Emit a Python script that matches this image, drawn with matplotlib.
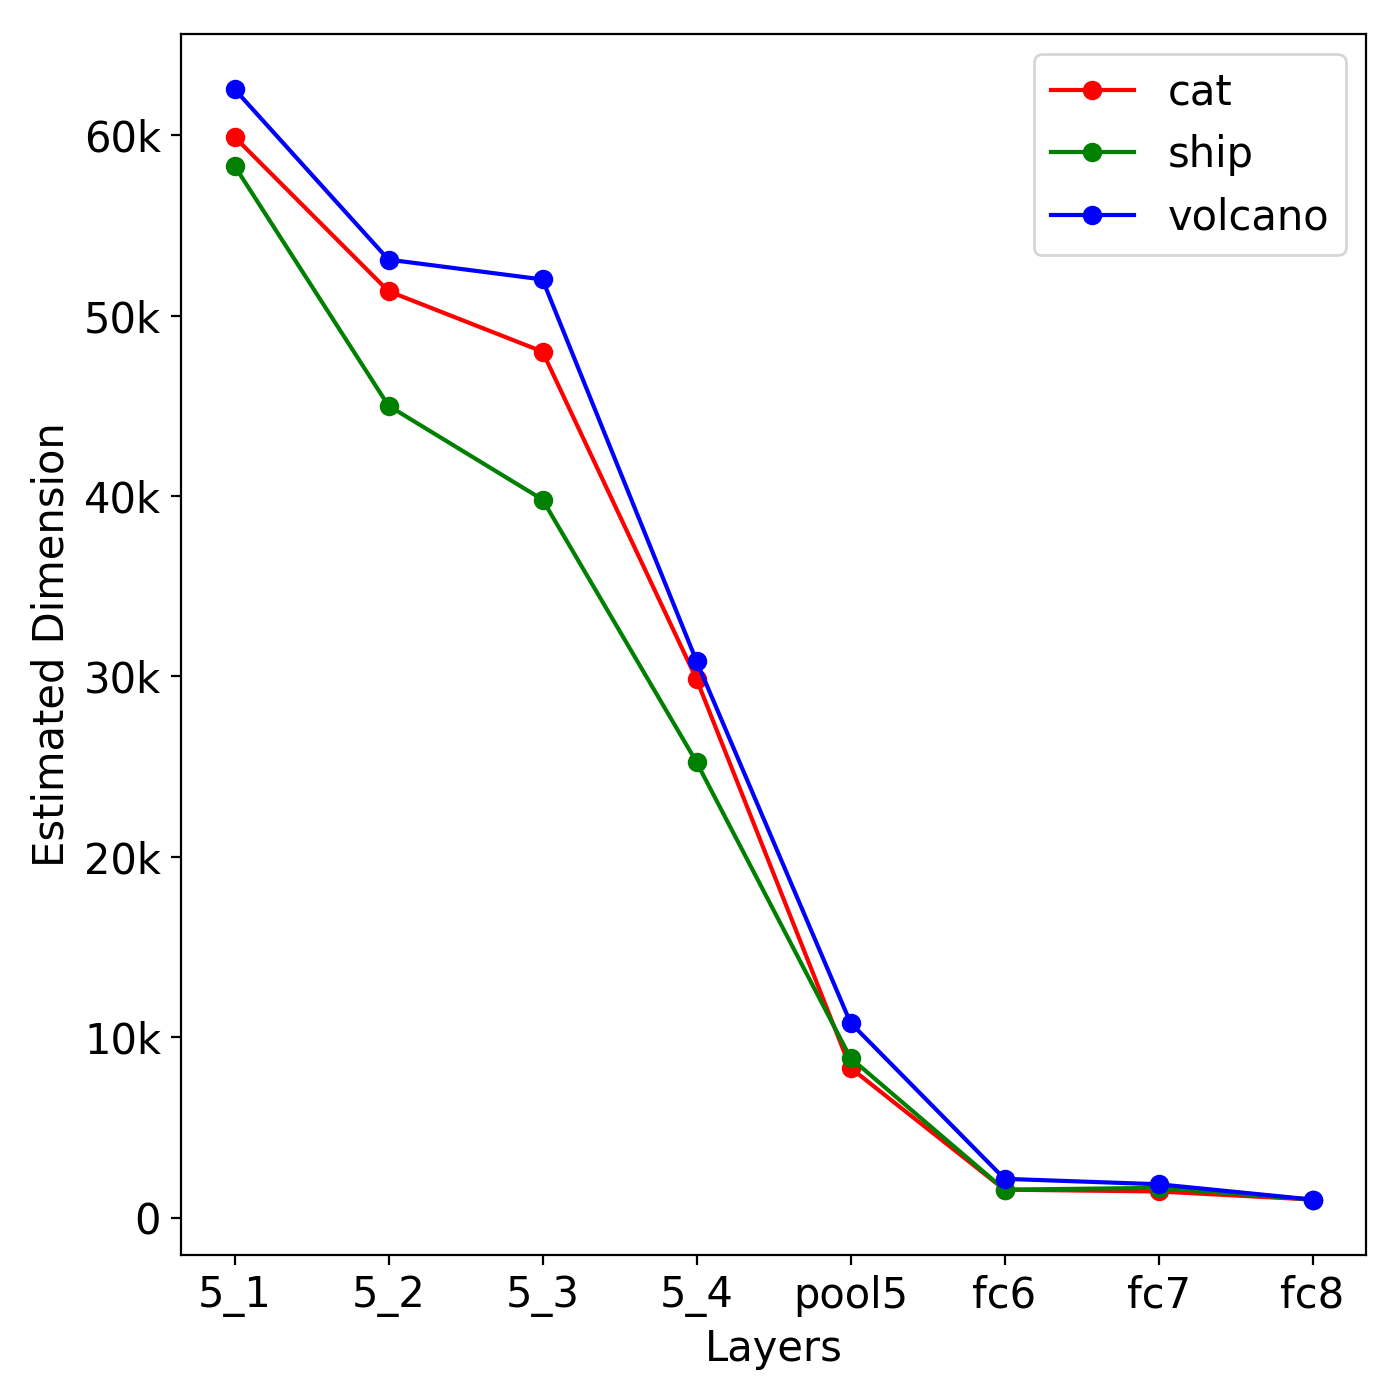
import matplotlib
matplotlib.use('Agg')
import matplotlib.pyplot as plt
from matplotlib.ticker import FuncFormatter

layers = ['5_1', '5_2', '5_3', '5_4', 'pool5', 'fc6', 'fc7', 'fc8']
cat = [59900, 51350, 48000, 29850, 8300, 1550, 1450, 1000]
ship = [58300, 45000, 39800, 25250, 8850, 1550, 1650, 1000]
volcano = [62550, 53100, 52000, 30850, 10800, 2150, 1850, 1000]

plt.rcParams['font.size'] = 15

fig, ax = plt.subplots(figsize=(7, 7), dpi=200)
x = range(len(layers))
ax.plot(x, cat, 'o-', color='red', label='cat')
ax.plot(x, ship, 'o-', color='green', label='ship')
ax.plot(x, volcano, 'o-', color='blue', label='volcano')

ax.set_xticks(list(x))
ax.set_xticklabels(layers)
ax.yaxis.set_major_formatter(FuncFormatter(lambda v, p: '%dk' % (v / 1000) if v != 0 else '0'))
ax.set_xlabel('Layers')
ax.set_ylabel('Estimated Dimension')
ax.legend(loc='upper right', fontsize=15)

plt.subplots_adjust(left=0.129, right=0.976, top=0.976, bottom=0.1035)
plt.savefig('out.png')
